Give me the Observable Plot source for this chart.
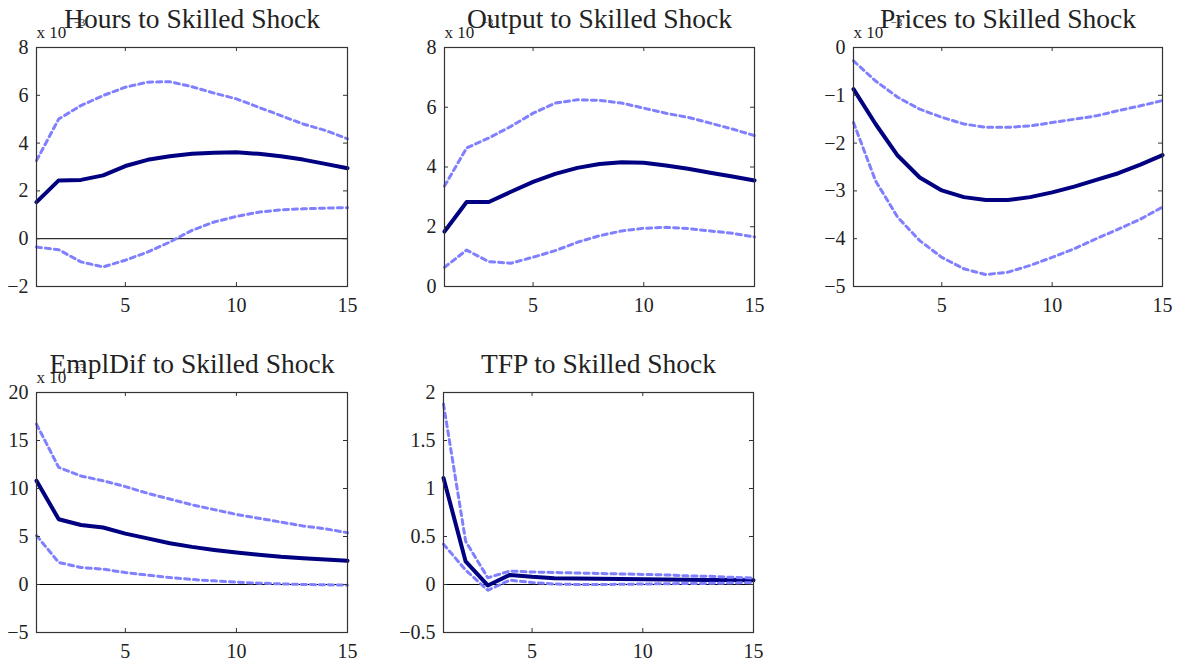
<!DOCTYPE html>
<html><head><meta charset="utf-8">
<script src="https://cdn.jsdelivr.net/npm/d3@7"></script>
<script src="https://cdn.jsdelivr.net/npm/@observablehq/plot@0.6"></script>
<style>
body{margin:0;background:#fff;}
#root{position:relative;width:1182px;height:661px;overflow:hidden;background:#fff;}
.panel{position:absolute;}
</style>
</head><body><div id="root"></div>
<script>
const horizon = [1,2,3,4,5,6,7,8,9,10,11,12,13,14,15];
const xTicks = [5,10,15];

const titles = ["Hours to Skilled Shock","Output to Skilled Shock","Prices to Skilled Shock","EmplDif to Skilled Shock","TFP to Skilled Shock"];
const scaleLabels = ["x 10","x 10","x 10","x 10",null];
const scaleExps = ["−3","−3","−3","−3",null];

const hoursMed = [1.53,2.44,2.46,2.65,3.04,3.30,3.45,3.55,3.60,3.62,3.55,3.45,3.31,3.13,2.95];
const hoursUp  = [3.27,5.01,5.57,5.99,6.34,6.55,6.57,6.36,6.09,5.85,5.50,5.15,4.80,4.53,4.18];
const hoursLo  = [-0.35,-0.46,-0.97,-1.18,-0.90,-0.56,-0.14,0.35,0.70,0.93,1.11,1.21,1.25,1.28,1.30];
const hoursTicks = [-2,0,2,4,6,8];

const outputMed = [1.84,2.83,2.83,3.17,3.50,3.77,3.97,4.10,4.16,4.14,4.05,3.94,3.81,3.68,3.55];
const outputUp  = [3.36,4.64,4.97,5.36,5.80,6.14,6.25,6.23,6.14,5.97,5.80,5.66,5.47,5.27,5.05];
const outputLo  = [0.64,1.22,0.83,0.78,0.98,1.20,1.48,1.70,1.86,1.95,1.98,1.94,1.86,1.78,1.66];
const outputTicks = [0,2,4,6,8];

const pricesMed = [-0.87,-1.60,-2.26,-2.72,-2.99,-3.13,-3.19,-3.19,-3.13,-3.03,-2.91,-2.77,-2.63,-2.45,-2.25];
const pricesUp  = [-0.28,-0.70,-1.04,-1.29,-1.46,-1.60,-1.67,-1.67,-1.64,-1.57,-1.50,-1.43,-1.32,-1.22,-1.11];
const pricesLo  = [-1.57,-2.79,-3.55,-4.04,-4.39,-4.63,-4.75,-4.70,-4.56,-4.39,-4.21,-4.00,-3.80,-3.59,-3.34];
const pricesTicks = [-5,-4,-3,-2,-1,0];

const empldifMed = [10.8,6.8,6.2,5.94,5.3,4.8,4.3,3.92,3.6,3.33,3.1,2.88,2.74,2.6,2.47];
const empldifUp  = [16.7,12.2,11.3,10.8,10.2,9.5,8.9,8.3,7.8,7.3,6.9,6.5,6.1,5.8,5.4];
const empldifLo  = [5.1,2.3,1.77,1.6,1.25,0.97,0.73,0.52,0.38,0.24,0.14,0.07,0.0,-0.03,-0.07];
const empldifTicks = [-5,0,5,10,15,20];

const tfpMed = [1.11,0.24,-0.01,0.10,0.08,0.066,0.063,0.06,0.058,0.055,0.053,0.05,0.048,0.046,0.045];
const tfpUp  = [1.88,0.45,0.07,0.14,0.13,0.125,0.12,0.115,0.11,0.105,0.10,0.09,0.085,0.075,0.066];
const tfpLo  = [0.42,0.15,-0.06,0.045,0.02,0.005,0.0,0.0,0.002,0.005,0.008,0.01,0.012,0.015,0.02];
const tfpTicks = [-0.5,0,0.5,1,1.5,2];

const series = [
  {med: hoursMed, up: hoursUp, lo: hoursLo, ticks: hoursTicks, zero: true},
  {med: outputMed, up: outputUp, lo: outputLo, ticks: outputTicks, zero: false},
  {med: pricesMed, up: pricesUp, lo: pricesLo, ticks: pricesTicks, zero: false},
  {med: empldifMed, up: empldifUp, lo: empldifLo, ticks: empldifTicks, zero: true},
  {med: tfpMed, up: tfpUp, lo: tfpLo, ticks: tfpTicks, zero: true}
];

// frame boxes in page pixels: [left, right, top, bottom]
const frames = [
  [36,347,47,286],[444,754,47,286],[853,1162,47,286],
  [36,347,392,632],[443,753,392,632]
];

const ML = 45, MR = 20, MT = 50, MB = 35;
const FONT = "'Liberation Serif', 'DejaVu Serif', serif";
const root = document.getElementById("root");

series.forEach((s, i) => {
  const [fl, fr, ft, fb] = frames[i];
  const fw = fr - fl, fh = fb - ft;
  const rows = (arr) => horizon.map((h, k) => ({h, v: arr[k]}));
  const marks = [];
  if (s.zero) marks.push(Plot.ruleY([0], {stroke: "#000", strokeWidth: 1}));
  marks.push(Plot.line(rows(s.med), {x: "h", y: "v", stroke: "#000080", strokeWidth: 4, strokeLinejoin: "round"}));
  marks.push(Plot.line(rows(s.up), {x: "h", y: "v", stroke: "#8080ff", strokeWidth: 3, strokeDasharray: "5,4"}));
  marks.push(Plot.line(rows(s.lo), {x: "h", y: "v", stroke: "#8080ff", strokeWidth: 3, strokeDasharray: "5,4"}));
  marks.push(Plot.frame({stroke: "#333", strokeWidth: 1.2}));
  marks.push(Plot.tickX(xTicks, {x: d => d, insetTop: fh - 4, stroke: "#333"}));
  marks.push(Plot.tickX(xTicks, {x: d => d, insetBottom: fh - 4, stroke: "#333"}));
  marks.push(Plot.tickY(s.ticks, {y: d => d, insetRight: fw - 4, stroke: "#333"}));
  marks.push(Plot.tickY(s.ticks, {y: d => d, insetLeft: fw - 4, stroke: "#333"}));
  marks.push(Plot.axisX({ticks: xTicks, tickSize: 0, tickPadding: 11, tickFormat: d3.format(""), fill: "#222", fontSize: 20, label: null}));
  marks.push(Plot.axisY({ticks: s.ticks, tickSize: 0, tickPadding: 8, tickFormat: d3.format(""), fill: "#222", fontSize: 20, label: null}));
  if (scaleLabels[i]) {
    marks.push(Plot.text([scaleLabels[i]], {frameAnchor: "top-left", dy: -10, textAnchor: "start", lineAnchor: "bottom", fontSize: 17, fill: "#222"}));
    marks.push(Plot.text([scaleExps[i]], {frameAnchor: "top-left", dx: 37, dy: -22, textAnchor: "start", lineAnchor: "bottom", fontSize: 11, fill: "#222"}));
  }
  marks.push(Plot.text([titles[i]], {frameAnchor: "top", dy: -20, lineAnchor: "bottom", fontSize: 27.5, fill: "#222"}));

  const chart = Plot.plot({
    width: fw + ML + MR, height: fh + MT + MB,
    marginLeft: ML, marginRight: MR, marginTop: MT, marginBottom: MB,
    style: {fontFamily: FONT, fontSize: "20px", background: "transparent", overflow: "visible"},
    x: {domain: [1, 15]},
    y: {domain: [s.ticks[0], s.ticks[s.ticks.length - 1]]},
    marks
  });
  const div = document.createElement("div");
  div.className = "panel";
  div.style.left = (fl - ML) + "px";
  div.style.top = (ft - MT) + "px";
  div.style.width = (fw + ML + MR) + "px";
  div.appendChild(chart);
  root.appendChild(div);
});
</script>
</body></html>
